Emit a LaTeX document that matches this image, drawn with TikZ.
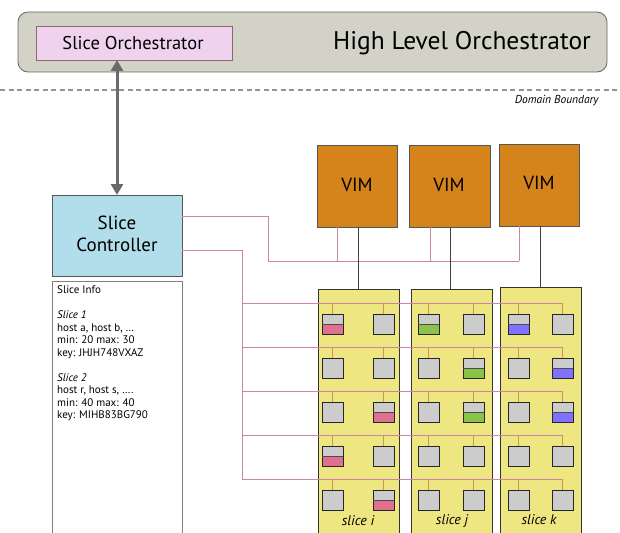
\documentclass[tikz,border=0pt]{standalone}
\usepackage{fontspec}
\setmainfont{PT Sans}
\usetikzlibrary{arrows.meta,shadows}
\definecolor{hlofill}{HTML}{D2D2C6}
\definecolor{sofill}{HTML}{EED2EE}
\definecolor{ctrlfill}{HTML}{B2DEEC}
\definecolor{vimfill}{HTML}{D4841A}
\definecolor{colfill}{HTML}{EEE680}
\definecolor{hostfill}{HTML}{CCCCCC}
\definecolor{pinkline}{HTML}{CC84AA}
\definecolor{stubline}{HTML}{C8955E}
\definecolor{cpink}{HTML}{E07090}
\definecolor{cgreen}{HTML}{8BC34A}
\definecolor{cblue}{HTML}{8070FF}
\definecolor{edge}{HTML}{555555}
\tikzset{
  box/.style={draw=edge, line width=0.8pt, inner sep=0pt, outer sep=0pt, anchor=north west},
  hlobox/.style={box, fill=hlofill, rounded corners=10pt, draw=edge!90},
  sobox/.style={box, fill=sofill, draw=gray!80!purple},
  ctrlbox/.style={box, fill=ctrlfill},
  infobox/.style={box, fill=white, draw=gray},
  vimbox/.style={box, fill=vimfill, draw=edge},
  colbox/.style={box, fill=colfill, draw=black!80},
  hostbox/.style={box, fill=hostfill, draw=black!85, minimum width=21pt, minimum height=20pt,
     drop shadow={shadow xshift=1.2pt, shadow yshift=-1.2pt, fill=gray!80, opacity=0.8}},
  pinkw/.style={draw=pinkline, line width=0.8pt},
  stub/.style={draw=stubline, line width=1.3pt},
  vimlink/.style={draw=black!75, line width=1pt},
  vimtxt/.style={font=\fontsize{19}{21}\selectfont},
  slicelbl/.style={font=\fontsize{14}{16}\selectfont\itshape},
}
\begin{document}
\begin{tikzpicture}[x=1pt,y=-1pt]
\useasboundingbox (0,0) rectangle (620,532);

% top orchestrator
\node[hlobox, minimum width=589pt, minimum height=60pt] (hlo) at (18,12) {};
\node[font=\fontsize{25.5}{27}\selectfont] (hlotxt) at (462,43) {High Level Orchestrator};
\node[sobox, minimum width=196pt, minimum height=34pt] (so) at (36,26) {};
\node[font=\fontsize{18.5}{20}\selectfont] (sotxt) at (133,43) {Slice Orchestrator};

% domain boundary
\coordinate (dbL) at (0,90);
\coordinate (dbR) at (620,90);
\draw[dash pattern=on 5pt off 3.5pt, line width=1.8pt, draw=gray!85] (dbL) -- (dbR);
\node[anchor=east, font=\fontsize{11.5}{13}\selectfont\itshape] (db) at (602,101) {Domain Boundary};

% controller + info
\node[ctrlbox, minimum width=130pt, minimum height=81pt] (ctrl) at (52,195) {};
\node[font=\fontsize{19}{22}\selectfont, align=center] (ctrltxt) at (117,234) {Slice\\Controller};
\node[infobox, minimum width=130pt, minimum height=270pt] (info) at (52,281) {};
\node[anchor=north west, align=left, inner sep=0pt, font=\fontsize{11}{12.5}\selectfont] (infotxt) at (57,285.5)
  {Slice Info\\[12.5pt]
   \textit{Slice 1}\\
   host a, host b, \dots\\
   min: 20 max: 30\\
   key: JHJH748VXAZ\\[12.5pt]
   \textit{Slice 2}\\
   host r, host s, \dots.\\
   min: 40 max: 40\\
   key: MIHB83BG790};

% arrow
\draw[line width=3pt, draw=black!58, {Triangle[length=11pt,width=12pt]}-{Triangle[length=11pt,width=12pt]}]
  (ctrl.north) -- (ctrl.north |- so.south);

% VIMs
\node[vimbox, minimum width=80pt, minimum height=82pt] (vim1) at (317,145) {};
\node[vimbox, minimum width=81pt, minimum height=82pt] (vim2) at (409,145) {};
\node[vimbox, minimum width=80pt, minimum height=82pt] (vim3) at (499,144) {};
\node[vimtxt] (vt1) at (357,185) {VIM};
\node[vimtxt] (vt2) at (449,185) {VIM};
\node[vimtxt] (vt3) at (539,183) {VIM};

% columns
\node[colbox, minimum width=81pt, minimum height=260pt] (col1) at (318,289) {};
\node[colbox, minimum width=81pt, minimum height=260pt] (col2) at (411,289) {};
\node[colbox, minimum width=81pt, minimum height=260pt] (col3) at (500,287) {};

% controller -> VIM management line
\coordinate (p1) at (268,216);
\coordinate (p2) at (268,261);
\coordinate (v1a) at (337,261);
\coordinate (v2a) at (430,261);
\coordinate (v3a) at (519,261);
\draw[pinkw] (ctrl.east |- p1) -- (p1) -- (p2) -- (v3a);
\draw[pinkw] (v1a) -- (v1a |- vim1.south);
\draw[pinkw] (v2a) -- (v2a |- vim2.south);
\draw[pinkw] (v3a) -- (v3a |- vim3.south);

% VIM -> columns
\draw[vimlink] (vim1.south -| 358,0) -- (col1.north -| 358,0);
\draw[vimlink] (vim2.south -| 450,0) -- (col2.north -| 450,0);
\draw[vimlink] (vim3.south -| 540,0) -- (col3.north -| 540,0);

% controller -> host buses
\coordinate (q1) at (242,250);
\coordinate (q2) at (242,479);
\draw[pinkw] (ctrl.east |- q1) -- (q1) -- (q2);
\foreach \by in {303,347,391,435,479}{
  \coordinate (bl) at (242,\by);
  \coordinate (br) at (563,\by);
  \draw[pinkw] (bl) -- (br);
}

% hosts
\foreach \hx/\cx in {322/332.5,373/383.5,418/428.5,463/473.5,508/518.5,552/562.5}{
  \foreach \hy/\by in {314/303,358/347,402/391,446/435,490/479}{
    \coordinate (st) at (\cx,\by);
    \draw[stub] (st) -- (\cx,\hy);
    \node[hostbox] (h) at (\hx,\hy) {};
  }
}
% coloured slice halves
\foreach \hx/\hy/\cc in {322/314/cpink,373/402/cpink,322/446/cpink,373/490/cpink,
                         418/314/cgreen,463/358/cgreen,463/402/cgreen,
                         508/314/cblue,552/358/cblue,552/402/cblue}{
  \fill[\cc] (\hx,\hy+10) rectangle (\hx+21,\hy+20);
  \draw[black!85, line width=0.8pt] (\hx,\hy) rectangle (\hx+21,\hy+20);
  \draw[black!70, line width=0.8pt] (\hx,\hy+10) -- (\hx+21,\hy+10);
}

% labels
\node[slicelbl] (li) at (358,521) {slice i};
\node[slicelbl] (lj) at (452,521) {slice j};
\node[slicelbl] (lk) at (539,520) {slice k};
\end{tikzpicture}
\end{document}
